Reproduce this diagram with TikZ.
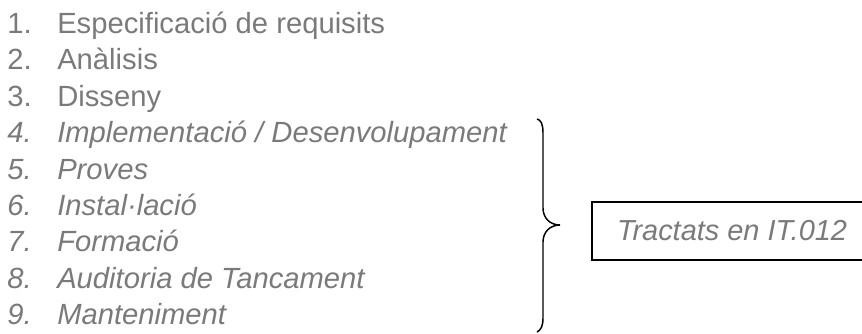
\documentclass[tikz,border=0pt]{standalone}
\usepackage{fontspec}
\setmainfont{Liberation Sans}
\usetikzlibrary{positioning}
\definecolor{itemgray}{RGB}{122,122,122}

\begin{document}
\begin{tikzpicture}[x=0.75pt, y=-0.75pt,
		item/.style={inner sep=0pt, anchor=base west, text=itemgray, font=\fontsize{21.9}{26}\selectfont},
		itemit/.style={item, font=\fontsize{21.9}{26}\selectfont\itshape},
		itbox/.style={draw=black, line width=1.1pt, text=itemgray, inner sep=0pt, minimum width=210pt, minimum height=43.5pt, font=\fontsize{21.7}{26}\selectfont\itshape},
		bracepen/.style={draw=black, line width=1.1pt}]
		\clip (0,0) rectangle (862,334);
		\pgfmathsetmacro{\linestep}{36.4}
		\pgfmathsetmacro{\firstbase}{33.5}
		% the list, plain part
		\foreach \i/\txt in {1/Especificació de requisits, 2/Anàlisis, 3/Disseny} {
			\node[item] (num\i) at (7, \firstbase+\linestep*\i-\linestep) {\i.};
			\node[item] (txt\i) at (57, \firstbase+\linestep*\i-\linestep) {\txt};
		}
		% the list, italic part
		\foreach \i/\txt in {4/{Implementació / Desenvolupament}, 5/Proves, 6/Instal·lació, 7/Formació, 8/Auditoria de Tancament, 9/Manteniment} {
			\node[itemit] (num\i) at (7, \firstbase+\linestep*\i-\linestep) {\i.};
			\node[itemit] (txt\i) at (57, \firstbase+\linestep*\i-\linestep) {\txt};
		}

		\node[itbox] (it012) at (732,231) {Tractats en IT.012};

		% brace
		\coordinate (btop) at (537,119);
		\coordinate (btip) at (560,225);
		\coordinate (bbot) at (537,332);
		\draw[bracepen] (btop) .. controls (541,120) and (543,124) .. (543,133) -- (543,208)
			.. controls (543,218) and (550,225) .. (btip)
			.. controls (550,225) and (543,232) .. (543,242) -- (543,318)
			.. controls (543,326) and (541,330) .. (bbot);
	\end{tikzpicture}
\end{document}
